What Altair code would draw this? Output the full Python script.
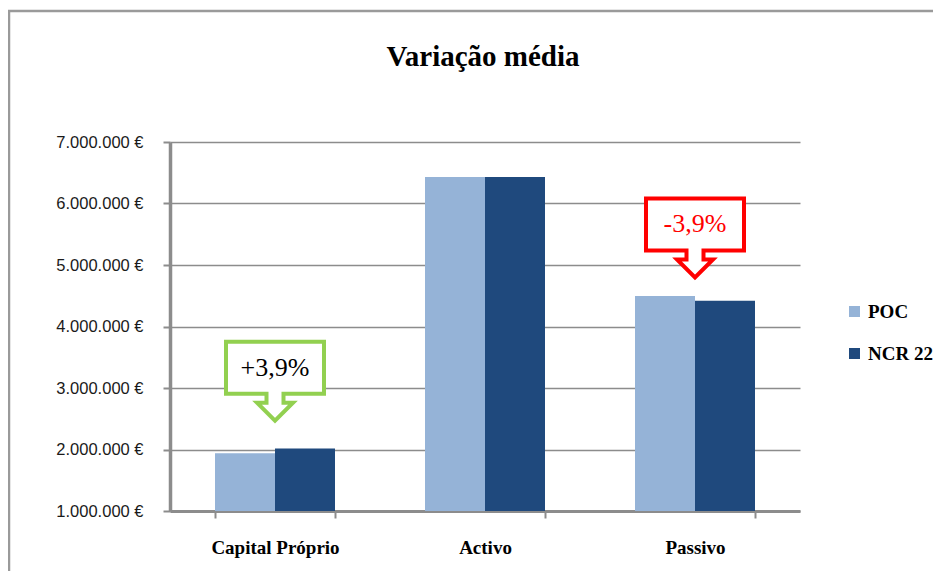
import altair as alt
import pandas as pd

# ---- data ----
categories = ["Capital Próprio", "Activo", "Passivo"]
series = ["POC", "NCR 22"]
poc_values = [1940000, 6430000, 4496000]
ncr_values = [2015000, 6430000, 4420000]
series_colors = ["#95B3D7", "#1F497D"]

callout_categories = ["Capital Próprio", "Passivo"]
callout_labels = ["+3,9%", "-3,9%"]
callout_values = [3330000, 5660000]
callout_strokes = ["#92D050", "#FF0000"]
callout_text_colors = ["#000000", "#FF0000"]

y_ticks = [1000000, 2000000, 3000000, 4000000, 5000000, 6000000, 7000000]
chart_title = ["Variação média"]

# ---- tables ----
rows = []
for c, p, n in zip(categories, poc_values, ncr_values):
    rows.append({"categoria": c, "serie": series[0], "valor": p})
    rows.append({"categoria": c, "serie": series[1], "valor": n})
bars_df = pd.DataFrame(rows)

callout_df = pd.DataFrame({
    "categoria": callout_categories,
    "label": callout_labels,
    "valor": callout_values,
    "stroke": callout_strokes,
    "tcolor": callout_text_colors,
})

W, H = 630, 369
GRAY = "#8C8C8C"
SERIF = "Liberation Serif"

# callout outline (box with a downward arrow), unit = 50 px
CALLOUT = ("M -0.98 -0.52 L 0.98 -0.52 L 0.98 0.52 L 0.17 0.52 L 0.17 0.70 "
           "L 0.36 0.70 L 0 1.06 L -0.36 0.70 L -0.17 0.70 L -0.17 0.52 "
           "L -0.98 0.52 Z")

x_enc = alt.X(
    "categoria:N", sort=categories,
    scale=alt.Scale(paddingInner=0.4286, paddingOuter=0.2143),
    axis=alt.Axis(title=None, labelAngle=0, labelFont=SERIF, labelFontSize=19,
                  labelFontWeight="bold", labelColor="#000000", labelPadding=20,
                  tickBand="extent", tickSize=7, tickColor=GRAY, tickWidth=2,
                  domainColor=GRAY, domainWidth=3, grid=False),
)
y_enc = alt.Y(
    "valor:Q",
    scale=alt.Scale(domain=[1000000, 7000000], zero=False, nice=False),
    axis=alt.Axis(title=None, values=y_ticks,
                  labelExpr="replace(format(datum.value, ',.0f'), /,/g, '.') + ' €'",
                  labelFont="Liberation Sans", labelFontSize=16.5, labelColor="#1a1a1a",
                  labelPadding=20, tickSize=7, tickColor=GRAY, tickWidth=2,
                  domainColor=GRAY, domainWidth=3.5,
                  grid=True, gridColor=GRAY, gridWidth=1.6),
)

border = alt.Chart(pd.DataFrame({"k": [0]})).mark_rect(
    fill=None, stroke="#9A9A9A", strokeWidth=2.5
).encode(
    x=alt.value(-161), x2=alt.value(W + 300),
    y=alt.value(-131), y2=alt.value(H + 300),
)

title = alt.Chart(pd.DataFrame({"t": chart_title})).mark_text(
    font=SERIF, fontSize=29, fontWeight="bold", color="#000000",
    align="center", baseline="alphabetic",
).encode(
    x=alt.value(W / 2 - 2), y=alt.value(-76), text="t:N",
)

bars = alt.Chart(bars_df).mark_bar().encode(
    x=x_enc,
    xOffset=alt.XOffset("serie:N", sort=series),
    y=y_enc,
    y2=alt.datum(1000000),
    color=alt.Color(
        "serie:N", sort=series,
        scale=alt.Scale(domain=series, range=series_colors),
        legend=alt.Legend(title=None, orient="none", legendX=675, legendY=160,
                          symbolType="square", symbolSize=121, symbolStrokeWidth=0,
                          labelFont=SERIF, labelFontSize=19, labelFontWeight="bold",
                          labelColor="#000000", labelOffset=4, rowPadding=22),
    ),
)

boxes = alt.Chart(callout_df).mark_point(
    shape=CALLOUT, size=10000, filled=False, fill="white", fillOpacity=1,
    strokeWidth=4, opacity=1, strokeJoin="miter",
).encode(
    x=alt.X("categoria:N", sort=categories),
    y=alt.Y("valor:Q"),
    stroke=alt.Stroke("stroke:N", scale=None),
)

texts = alt.Chart(callout_df).mark_text(
    font=SERIF, fontSize=26, align="center", baseline="middle",
).encode(
    x=alt.X("categoria:N", sort=categories),
    y=alt.Y("valor:Q"),
    text="label:N",
    color=alt.Color("tcolor:N", scale=None),
)

chart = alt.layer(border, title, bars, boxes, texts).properties(
    width=W, height=H,
    autosize=alt.AutoSizeParams(type="none"),
    padding={"left": 162, "top": 134, "right": 133, "bottom": 60},
).configure_view(stroke=None)

chart.save("out.html", embed_options={"renderer": "svg", "actions": False})
